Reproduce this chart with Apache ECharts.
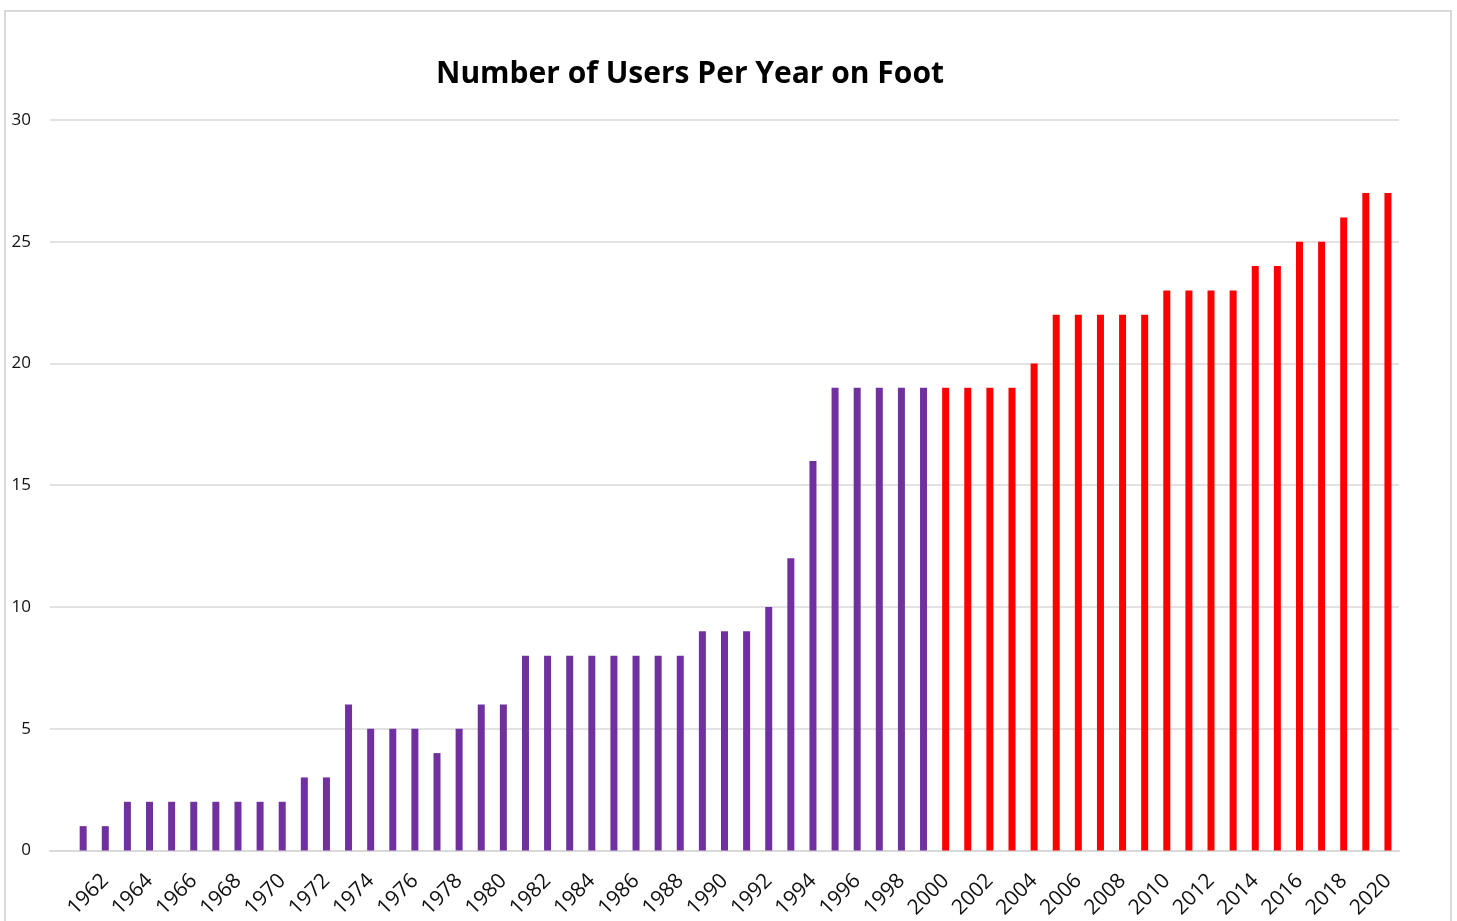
<!DOCTYPE html>
<html>
<head>
<meta charset="utf-8">
<script src="https://cdn.jsdelivr.net/npm/echarts@6/dist/echarts.min.js"></script>
<style>html,body{margin:0;padding:0;background:#fff;}#c{width:1457px;height:921px;}</style>
</head>
<body>
<div id="c"></div>
<script>
// categories: leading blank slot, then 1961..2020
const years = [''];
for (let y = 1961; y <= 2020; y++) years.push(String(y));
// 1961-1999 (purple)
const purpleValues = [1,1,2,2,2,2,2,2,2,2,3,3,6,5,5,5,4,5,6,6,8,8,8,8,8,8,8,8,9,9,9,10,12,16,19,19,19,19,19];
// 2000-2020 (red)
const redValues = [19,19,19,19,20,22,22,22,22,22,23,23,23,23,24,24,25,25,26,27,27];
const yTicks = {min: 0, max: 30, interval: 5};

const purpleData = ['-'].concat(purpleValues, redValues.map(() => '-'));
const redData = ['-'].concat(purpleValues.map(() => '-'), redValues);

const chart = echarts.init(document.getElementById('c'), null, {renderer: 'canvas'});
chart.setOption({
  animation: false,
  backgroundColor: '#fff',
  title: {
    text: 'Number of Users Per Year on Foot',
    left: 685, top: 54, textAlign: 'center',
    textStyle: {fontFamily: 'Open Sans', fontWeight: 'bold', fontSize: 30, color: '#000'}
  },
  graphic: [{
    type: 'rect', shape: {x: 5, y: 11, width: 1446, height: 920},
    style: {fill: 'none', stroke: '#d9d9d9', lineWidth: 2}, silent: true, z: -1
  }],
  grid: {left: 50, right: 58, top: 120, bottom: 70, containLabel: false},
  xAxis: {
    type: 'category', data: years,
    axisLine: {show: true, lineStyle: {color: '#d9d9d9', width: 2}},
    axisTick: {show: false},
    axisLabel: {interval: 1, rotate: 45, fontFamily: 'Open Sans', fontSize: 21, color: '#111', margin: 27}
  },
  yAxis: {
    type: 'value', min: yTicks.min, max: yTicks.max, interval: yTicks.interval,
    axisLine: {show: false}, axisTick: {show: false},
    axisLabel: {fontFamily: 'Open Sans', fontSize: 17, color: '#111', margin: 19},
    splitLine: {lineStyle: {color: '#d9d9d9', width: 1.5}}
  },
  series: [
    {type: 'bar', data: purpleData, barWidth: 7, barGap: '-100%', itemStyle: {color: '#7030A0'}},
    {type: 'bar', data: redData, barWidth: 7, barGap: '-100%', itemStyle: {color: '#FF0000'}}
  ]
});
</script>
</body>
</html>
